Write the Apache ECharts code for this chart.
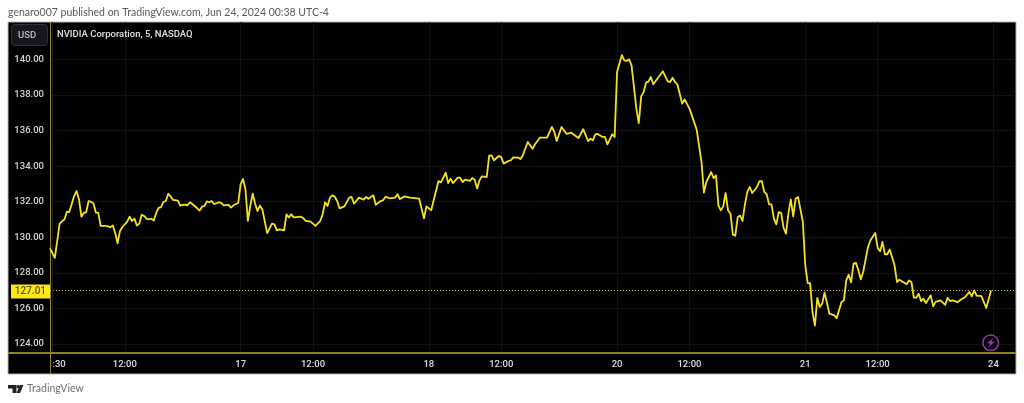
<!DOCTYPE html>
<html>
<head>
<meta charset="utf-8">
<title>NVIDIA Corporation, 5, NASDAQ</title>
<script src="https://cdn.jsdelivr.net/npm/echarts@6/dist/echarts.min.js"></script>
<style>
  html, body { margin: 0; padding: 0; background: #fff; }
  #chart { width: 1024px; height: 403px; }
</style>
</head>
<body>
<div id="chart"></div>
<script>
// 5 minute bars, counted from the left edge of the chart., only the turning points
const bars = [
  0, 2, 4, 5, 6, 7, 8, 10, 11, 12, 13, 14, 15, 16, 17, 18, 19, 20, 21, 23,
  24, 25, 26, 27, 28, 29, 30, 32, 33, 34, 35, 36, 37, 38, 39, 40, 41, 42, 43, 44,
  45, 46, 47, 48, 49, 50, 51, 53, 54, 55, 56, 57, 58, 60, 62, 63, 64, 65, 66, 67,
  68, 70, 71, 72, 74, 75, 76, 78, 79, 80, 81, 82, 83, 84, 85, 86, 87, 88, 90, 92,
  93, 94, 95, 97, 98, 99, 100, 101, 104, 105, 106, 108, 110, 112, 113, 114, 115, 116, 117, 118,
  119, 120, 122, 124, 125, 126, 128, 130, 131, 132, 134, 135, 137, 138, 139, 141, 143, 144, 145, 147,
  149, 153, 154, 155, 156, 158, 159, 161, 162, 164, 165, 166, 167, 169, 170, 171, 172, 174, 175, 176,
  177, 178, 179, 181, 182, 183, 184, 186, 187, 188, 190, 191, 192, 194, 195, 196, 198, 200, 201, 203,
  206, 208, 209, 210, 212, 214, 216, 219, 221, 223, 224, 225, 226, 227, 229, 230, 231, 233, 234, 235,
  237, 238, 239, 240, 241, 242, 243, 244, 245, 246, 247, 248, 249, 250, 252, 254, 256, 257, 258, 259,
  260, 262, 263, 265, 266, 268, 270, 271, 272, 274, 275, 276, 277, 278, 279, 280, 281, 282, 283, 284,
  285, 286, 287, 288, 289, 290, 291, 293, 294, 295, 296, 297, 298, 299, 300, 301, 302, 303, 304, 305,
  306, 307, 308, 309, 310, 312, 313, 314, 315, 316, 317, 318, 319, 320, 321, 323, 325, 326, 328, 329,
  330, 331, 332, 333, 334, 335, 336, 337, 339, 340, 342, 343, 344, 345, 346, 347, 348, 350, 351, 352,
  354, 355, 356, 357, 358, 359, 360, 361, 362, 363, 365, 366, 367, 369, 371, 372, 373, 374, 375, 376,
  378, 379, 381, 382, 383, 384, 386, 388, 390
]
const prices = [
  129.38, 128.85, 130.77, 130.90, 131.01, 131.44, 131.42, 132.32, 132.60, 132.14, 131.16, 131.37, 131.42, 132.04, 131.99, 131.91, 131.39, 131.37, 130.64, 130.64,
  130.62, 130.56, 130.67, 130.26, 129.66, 130.36, 130.58, 130.88, 131.16, 130.92, 131.05, 130.67, 130.77, 131.27, 131.20, 131.05, 131.01, 131.05, 130.94, 131.37,
  131.65, 131.70, 131.99, 132.04, 132.44, 132.30, 132.10, 132.06, 131.78, 131.82, 131.84, 131.80, 131.97, 131.76, 131.50, 131.72, 131.76, 132.02, 131.97, 132.04,
  131.87, 131.97, 131.93, 131.80, 131.82, 131.67, 131.80, 131.93, 132.98, 133.28, 132.70, 130.92, 131.76, 132.45, 131.89, 131.48, 131.78, 131.57, 130.24, 130.77,
  130.73, 130.39, 130.45, 130.39, 131.29, 131.11, 131.29, 131.12, 131.16, 131.07, 130.92, 130.88, 130.64, 130.92, 131.29, 131.97, 131.76, 132.23, 132.36, 132.29,
  132.04, 131.63, 131.74, 132.23, 132.27, 131.89, 132.23, 132.12, 132.27, 132.17, 132.36, 131.83, 132.04, 132.08, 132.27, 132.19, 132.23, 132.42, 132.15, 132.30,
  132.23, 132.17, 131.61, 131.07, 131.74, 131.52, 132.08, 133.16, 133.09, 133.63, 133.05, 133.30, 133.05, 133.35, 133.35, 133.11, 133.24, 133.17, 133.33, 133.24,
  132.75, 133.20, 133.43, 133.39, 134.59, 134.61, 134.33, 134.57, 134.51, 134.14, 134.29, 134.33, 134.49, 134.48, 134.40, 134.63, 135.36, 134.98, 135.23, 135.60,
  135.60, 136.20, 135.92, 135.41, 136.20, 135.82, 135.88, 135.58, 136.07, 135.41, 135.54, 135.45, 135.79, 135.81, 135.64, 135.64, 135.22, 135.79, 135.64, 139.29,
  140.24, 139.94, 139.91, 140.00, 139.66, 138.45, 137.23, 136.42, 137.92, 138.16, 138.69, 138.75, 139.01, 138.60, 138.97, 139.33, 138.76, 138.73, 138.97, 138.73,
  138.60, 137.51, 137.75, 137.23, 136.85, 136.05, 134.23, 132.51, 133.11, 133.67, 133.33, 133.48, 131.80, 131.52, 131.74, 132.49, 131.52, 131.33, 130.15, 130.09,
  131.14, 131.22, 130.92, 131.85, 132.55, 132.83, 132.49, 132.83, 133.15, 133.16, 132.55, 132.42, 131.85, 131.85, 131.05, 130.73, 131.42, 131.37, 130.54, 130.21,
  131.33, 132.13, 131.18, 132.17, 132.27, 130.86, 128.43, 127.43, 127.43, 125.80, 125.04, 126.59, 126.09, 126.27, 126.89, 125.71, 125.62, 125.46, 126.35, 126.46,
  127.58, 127.90, 127.47, 128.52, 128.56, 128.15, 127.64, 128.05, 129.46, 129.83, 130.24, 129.42, 129.21, 129.74, 129.05, 129.05, 129.32, 128.43, 127.49, 127.62,
  127.45, 127.36, 127.58, 127.49, 126.61, 126.61, 126.83, 126.42, 126.55, 126.31, 126.74, 126.12, 126.37, 126.46, 126.20, 126.61, 126.42, 126.46, 126.42, 126.35,
  126.55, 126.61, 126.93, 126.68, 127.02, 126.72, 126.70, 126.03, 127.01
]
const timeTicks = [1, 31, 79, 109, 157, 187, 235, 265, 313, 343, 391]
const timeLabels = [':30', '12:00', '17', '12:00', '18', '12:00', '20', '12:00', '21', '12:00', '24']
const priceTicks = [124, 126, 128, 130, 132, 134, 136, 138, 140]
const lastPrice = 127.01

const spine = '#94821a'
const gridLine = '#12120a'
const font = 'Roboto, sans-serif'

const myChart = echarts.init(document.getElementById('chart'))
myChart.setOption({
  animation: false,
  backgroundColor: '#fff',
  textStyle: { fontFamily: font },
  title: [
    {
      text: 'genaro007 published on TradingView.com, Jun 24, 2024 00:38 UTC-4',
      left: 3, top: 2,
      textStyle: { color: '#5a5a5a', fontSize: 10.5, fontWeight: 'normal', fontFamily: 'Lato, sans-serif' }
    },
    {
      text: 'NVIDIA Corporation, 5, NASDAQ',
      left: 52, top: 25,
      textStyle: { color: '#e0e0e0', fontSize: 9.5, fontWeight: 500, fontFamily: font }
    },
    {
      text: 'TradingView',
      left: 22, top: 378,
      textStyle: { color: '#707070', fontSize: 10.5, fontWeight: 'normal', fontFamily: 'Lato, sans-serif' }
    }
  ],
  grid: { left: 50, top: 22, width: 965.2, height: 331 },
  xAxis: {
    type: 'value',
    min: 0,
    max: 400,
    axisLine: { show: false },
    axisTick: { show: false, customValues: timeTicks },
    splitLine: { show: true, lineStyle: { color: gridLine, width: 1 } },
    axisLabel: {
      customValues: timeTicks,
      alignMinLabel: 'left',
      color: '#dcdcdc',
      fontSize: 9.5,
      fontWeight: 500,
      margin: 7,
      formatter: (v) => timeLabels[timeTicks.indexOf(v)]
    }
  },
  yAxis: {
    type: 'value',
    min: 123.5,
    max: 142.1,
    axisLine: { show: false },
    axisTick: { show: false, customValues: priceTicks },
    splitLine: { show: true, lineStyle: { color: gridLine, width: 1 } },
    axisLabel: {
      customValues: priceTicks,
      color: '#d6d6d6',
      fontSize: 9.5,
      fontWeight: 500,
      margin: 6,
      padding: [2, 0, 0, 0],
      formatter: (v) => v.toFixed(2)
    }
  },
  series: [
    {
      type: 'line',
      data: bars.map((b, i) => [b, prices[i]]),
      showSymbol: false,
      z: 5,
      lineStyle: { color: '#f5e21f', width: 1.8, join: 'round' },
      markLine: {
        silent: true,
        symbol: 'none',
        animation: false,
        data: [{ yAxis: lastPrice }],
        lineStyle: { color: '#c9b81c', type: [1, 2], width: 1 },
        label: {
          position: 'start',
          distance: 0,
          offset: [0, 1],
          formatter: lastPrice.toFixed(2),
          color: '#5c5400',
          backgroundColor: '#ffe81a',
          fontSize: 10,
          fontWeight: 500,
          padding: [3, 4, 1, 4],
          width: 31,
          align: 'right'
        }
      }
    }
  ],
  graphic: [
    // black panel + frame, behind everything
    { type: 'rect', z: -10, shape: { x: 8, y: 22, width: 1008, height: 352 }, style: { fill: '#000', stroke: '#b4b4b4', lineWidth: 1 } },
    { type: 'line', z: 3, shape: { x1: 50.5, y1: 22, x2: 50.5, y2: 374 }, style: { stroke: spine, lineWidth: 1 } },
    { type: 'line', z: 3, shape: { x1: 8, y1: 353, x2: 1016, y2: 353 }, style: { stroke: spine, lineWidth: 2 } },
    // USD button
    { type: 'rect', z: 3, shape: { x: 11.5, y: 24.5, width: 36, height: 21, r: 3 }, style: { fill: '#15171e', stroke: '#2f333d', lineWidth: 1 } },
    { type: 'text', z: 4, style: { x: 27, y: 35.5, text: 'USD', fill: '#b8bcc4', fontSize: 9.5, fontFamily: font, fontWeight: 500, align: 'center', verticalAlign: 'middle' } },
    // lightning badge
    { type: 'circle', z: 4, shape: { cx: 990.7, cy: 342.7, r: 7.8 }, style: { fill: '#000', stroke: '#9438b0', lineWidth: 1.5 } },
    { type: 'polygon', z: 5, shape: { points: [[993.6, 337.5], [986.8, 343.6], [990.2, 343.6], [988.2, 347.8], [994.8, 341.6], [991.4, 341.6]] }, style: { fill: '#9438b0' } },
    // TradingView logo
    { type: 'polygon', z: 4, shape: { points: [[8, 385], [16.5, 385], [16.5, 393], [12.5, 393], [12.5, 388.5], [8, 388.5]] }, style: { fill: '#222' } },
    { type: 'circle', z: 4, shape: { cx: 18.2, cy: 386.8, r: 1.7 }, style: { fill: '#222' } },
    { type: 'polygon', z: 4, shape: { points: [[20, 385], [23.5, 385], [20, 393], [16.5, 393]] }, style: { fill: '#222' } }
  ]
})
</script>
</body>
</html>
